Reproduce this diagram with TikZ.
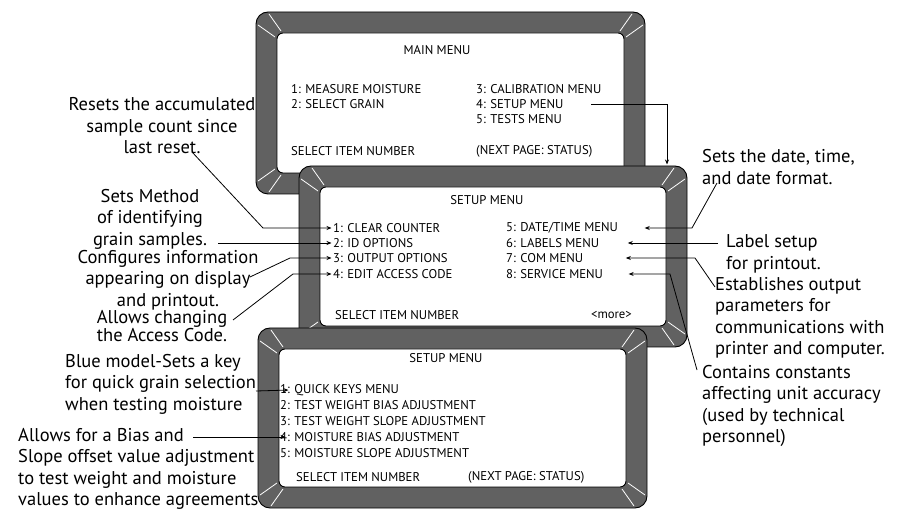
\documentclass[tikz,border=0pt]{standalone}
\usepackage{fontspec}
\setmainfont{PT Sans}
\usepackage{tikz}
\usetikzlibrary{calc,arrows.meta}

\tikzset{
  bezel/.style={fill=black!62,draw=black,line width=0.9pt,rounded corners=12pt},
  glass/.style={fill=white,draw=black,line width=0.9pt,rounded corners=6pt},
  glare/.style={white,line width=0.8pt},
  item/.style={anchor=west,inner sep=0pt,font=\fontsize{12.7}{14}\selectfont},
  note/.style={inner sep=0pt,font=\fontsize{18.5}{21.5}\selectfont},
  pointer/.style={->,>={Stealth[length=5pt,width=4pt]},line width=0.8pt,shorten >=1.5pt},
}

\begin{document}
\begin{tikzpicture}[x=1pt,y=-1pt]
\useasboundingbox (0,0) rectangle (900,510);
%%%% the three screens
\foreach \l/\t/\r/\b in {256/12/645/194, 299/166/687/347, 258/328/647/508}{
  \draw[bezel] (\l,\t) rectangle (\r,\b);
  \draw[glass] ({\l+21},{\t+21}) rectangle ({\r-21},{\b-21});
  %glare at the corners
  \foreach \sx/\sy/\cx/\cy in {-1/-1/\l/\t, 1/-1/\r/\t, -1/1/\l/\b, 1/1/\r/\b}
    \foreach \px/\py/\qx/\qy in {8/2/25/14, 2/8/14/25}
      \draw[glare] ($(\cx,\cy)-(\sx*27,\sy*27)+(\sx*\px,\sy*\py)$)
        -- ($(\cx,\cy)-(\sx*27,\sy*27)+(\sx*\qx,\sy*\qy)$);
}
\coordinate (scrTwo) at (667,166);

%%%% main menu
\node[item,anchor=center] (mTitle) at (437,50) {MAIN MENU};
\node[item] (m1) at (291,89) {1: MEASURE MOISTURE};
\node[item] (m2) at (291,104) {2: SELECT GRAIN};
\node[item] (m3) at (476,89) {3: CALIBRATION MENU};
\node[item] (m4) at (476,104) {4: SETUP MENU};
\node[item] (m5) at (476,119) {5: TESTS MENU};
\node[item] (mSel) at (291,151) {SELECT ITEM NUMBER};
\node[item] (mNext) at (476,151) {(NEXT PAGE: STATUS)};

%%%% setup menu, first page
\node[item,anchor=center] (sTitle) at (487,200) {SETUP MENU};
\node[item] (s1) at (333,228) {1: CLEAR COUNTER};
\node[item] (s2) at (333,243) {2: ID OPTIONS};
\node[item] (s3) at (333,258) {3: OUTPUT OPTIONS};
\node[item] (s4) at (333,274) {4: EDIT ACCESS CODE};
\node[item] (s5) at (506,228) {5: DATE/TIME MENU};
\node[item] (s6) at (506,243) {6: LABELS MENU};
\node[item] (s7) at (506,258) {7: COM MENU};
\node[item] (s8) at (506,274) {8: SERVICE MENU};
\node[item] (sSel) at (335,315) {SELECT ITEM NUMBER};
\node[item,anchor=east] (sMore) at (632,315) {<more>};

%%%% setup menu, second page
\node[item,anchor=center] (qTitle) at (446,358) {SETUP MENU};
\node[item] (q1) at (280,390) {1: QUICK KEYS MENU};
\node[item] (q2) at (280,405) {2: TEST WEIGHT BIAS ADJUSTMENT};
\node[item] (q3) at (280,421) {3: TEST WEIGHT SLOPE ADJUSTMENT};
\node[item] (q4) at (280,437) {4: MOISTURE BIAS ADJUSTMENT};
\node[item] (q5) at (280,453) {5: MOISTURE SLOPE ADJUSTMENT};
\node[item] (qSel) at (296,477) {SELECT ITEM NUMBER};
\node[item] (qNext) at (468,477) {(NEXT PAGE: STATUS)};

%%%% notes
\node[note,align=center] (nReset) at (162,126) {Resets the accumulated\\sample count since\\last reset.};
\node[note,align=center] (nMethod) at (150,219) {Sets Method\\of identifying\\grain samples.};
\node[note,align=center] (nConfig) at (168,280) {Configures information\\appearing on display\\and printout.};
\node[note,align=center,font=\fontsize{18.5}{13}\selectfont] (nAccess) at (162,326) {Allows changing\\the Access Code.};
\node[note,align=left,anchor=west] (nBlue) at (65,384) {Blue model-Sets a key\\for quick grain selection\\when testing moisture};
\node[note,align=left,anchor=west] (nBias) at (18,469) {Allows for a Bias and\\Slope offset value adjustment\\to test weight and moisture\\values to enhance agreements};
\node[note,align=left,anchor=west] (nDate) at (702,167) {Sets the date, time,\\and date format.};
\node[note,align=left,anchor=west] (nLabel) at (726,254) {Label setup\\for printout.};
\node[note,align=left,anchor=west] (nComm) at (715,318) {Establishes output\\parameters for\\communications with\\printer and computer.};
\node[note,align=left,anchor=west] (nConst) at (702,406) {Contains constants\\affecting unit accuracy\\(used by technical\\personnel)};

%%%% pointers
\coordinate (cMain) at (591,104);
\coordinate (cReset) at (192,152);
\coordinate (cMethod) at (218,243);
\coordinate (cConfig) at (250,277);
\coordinate (cAccess) at (233,320);
\coordinate (cBlue) at (256,391);
\coordinate (cBias) at (193,437);
\coordinate (cDate) at (717,183);
\coordinate (cLabel) at (718,243);
\coordinate (cComm) at (715,287);
\coordinate (cConst) at (697,370);
\draw[pointer] (cMain) -| (scrTwo);
\draw[pointer] (cReset) -- (263,228) -- (s1.west);
\draw[pointer] (cMethod) -- (s2.west);
\draw[pointer] (cConfig) -- (290,258) -- (s3.west);
\draw[pointer] (cAccess) -- (293,274) -- (s4.west);
\draw[pointer] (cBlue) -- ([xshift=10pt]q1.west);
\draw[pointer] (cBias) -- ([xshift=7pt]q4.west);
\draw[pointer] (cDate) -- (692,228) -- ([xshift=25pt]s5.east);
\draw[pointer] (cLabel) -- ([xshift=27pt]s6.east);
\draw[pointer] (cComm) -- (695,258) -- ([xshift=41pt]s7.east);
\draw[pointer] (cConst) -- (670,274) -- ([xshift=24pt]s8.east);
\end{tikzpicture}
\end{document}
